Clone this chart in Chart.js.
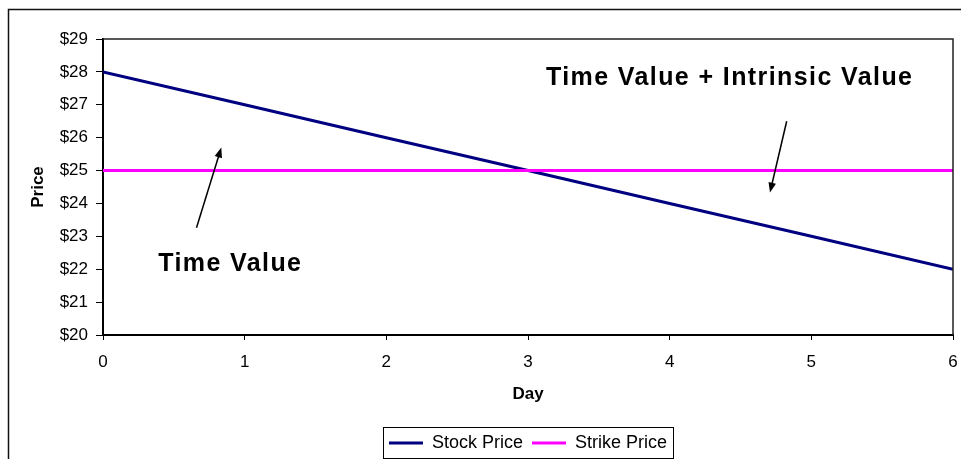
<!DOCTYPE html>
<html>
<head>
<meta charset="utf-8">
<script src="https://cdn.jsdelivr.net/npm/chart.js@4/dist/chart.umd.min.js"></script>
<style>
  html, body { margin: 0; padding: 0; background: #fff; }
  #wrap { width: 961px; height: 459px; }
</style>
</head>
<body>
<div id="wrap"><canvas id="c" width="961" height="459"></canvas></div>
<script>
// Day axis and the two price series
const days = [0, 1, 2, 3, 4, 5, 6];
const stockPrice = [28, 27, 26, 25, 24, 23, 22];
const strikePrice = [25, 25, 25, 25, 25, 25, 25];
const seriesNames = ['Stock Price', 'Strike Price'];
const priceRange = [20, 29];
const dayRange = [0, 6];

// Text call-outs with their arrows, placed in data units (day, price)
const callouts = [
  { text: 'Time Value', at: [0.39, 21.96], arrowFrom: [0.66, 23.26], arrowTo: [0.835, 25.70] },
  { text: 'Time Value + Intrinsic Value', at: [3.127, 27.615], arrowFrom: [4.826, 26.50], arrowTo: [4.708, 24.33] }
];

const FONT = '"Liberation Sans", Arial, sans-serif';

const framePlugin = {
  id: 'frame',
  beforeDraw(chart) {
    const { ctx } = chart;
    ctx.save();
    ctx.fillStyle = '#fff';
    ctx.fillRect(0, 0, chart.width, chart.height);
    ctx.restore();
  },
  afterDatasetsDraw(chart) {
    const { ctx, chartArea: a, scales } = chart;
    ctx.save();
    // thin top and right edges of the plot area
    ctx.strokeStyle = '#222';
    ctx.lineWidth = 1.5;
    ctx.beginPath();
    ctx.moveTo(a.left, a.top);
    ctx.lineTo(a.right, a.top);
    ctx.lineTo(a.right, a.bottom);
    ctx.stroke();

    // call-out texts and arrows
    const px = v => scales.x.getPixelForValue(v);
    const py = v => scales.y.getPixelForValue(v);
    ctx.fillStyle = '#000';
    ctx.strokeStyle = '#000';
    ctx.font = 'bold 25px ' + FONT;
    ctx.textBaseline = 'alphabetic';
    ctx.textAlign = 'left';
    if ('letterSpacing' in ctx) ctx.letterSpacing = '1.4px';
    callouts.forEach(c => {
      ctx.fillText(c.text, px(c.at[0]), py(c.at[1]));
      const x0 = px(c.arrowFrom[0]), y0 = py(c.arrowFrom[1]);
      const x1 = px(c.arrowTo[0]), y1 = py(c.arrowTo[1]);
      const ang = Math.atan2(y1 - y0, x1 - x0);
      const len = 10, hw = 3.8;
      ctx.lineWidth = 1.5;
      ctx.beginPath();
      ctx.moveTo(x0, y0);
      ctx.lineTo(x1 - Math.cos(ang) * len * 0.7, y1 - Math.sin(ang) * len * 0.7);
      ctx.stroke();
      ctx.beginPath();
      ctx.moveTo(x1, y1);
      ctx.lineTo(x1 - Math.cos(ang) * len - Math.sin(ang) * hw, y1 - Math.sin(ang) * len + Math.cos(ang) * hw);
      ctx.lineTo(x1 - Math.cos(ang) * len + Math.sin(ang) * hw, y1 - Math.sin(ang) * len - Math.cos(ang) * hw);
      ctx.closePath();
      ctx.fill();
    });
    if ('letterSpacing' in ctx) ctx.letterSpacing = '0px';
    ctx.restore();
  },
  afterDraw(chart) {
    const { ctx } = chart;
    ctx.save();
    // outer chart frame (runs off the right and bottom edges)
    ctx.strokeStyle = '#111';
    ctx.lineWidth = 1.5;
    ctx.strokeRect(8.5, 9.5, 2000, 2000);
    // box around the legend entries
    const boxes = chart.legend && chart.legend.legendHitBoxes;
    if (boxes && boxes.length) {
      const l = Math.min(...boxes.map(b => b.left));
      const r = Math.max(...boxes.map(b => b.left + b.width));
      const t = Math.min(...boxes.map(b => b.top));
      const h = Math.max(...boxes.map(b => b.height));
      ctx.strokeStyle = '#000';
      ctx.lineWidth = 1;
      ctx.strokeRect(Math.round(l - 6) + 0.5, Math.round(t - 7) + 0.5, Math.round(r - l + 12), Math.round(h + 13));
    }
    ctx.restore();
  }
};

new Chart(document.getElementById('c'), {
  type: 'line',
  data: {
    datasets: [
      {
        label: seriesNames[0],
        data: days.map((d, i) => ({ x: d, y: stockPrice[i] })),
        borderColor: '#000080',
        backgroundColor: '#000080',
        borderWidth: 3,
        pointRadius: 0,
        tension: 0,
        order: 1
      },
      {
        label: seriesNames[1],
        data: days.map((d, i) => ({ x: d, y: strikePrice[i] })),
        borderColor: '#FF00FF',
        backgroundColor: '#FF00FF',
        borderWidth: 3,
        pointRadius: 0,
        tension: 0,
        order: 0
      }
    ]
  },
  options: {
    responsive: false,
    animation: false,
    devicePixelRatio: 1,
    layout: { padding: { top: 39, left: 0, right: 8, bottom: -3 } },
    plugins: {
      tooltip: { enabled: false },
      legend: {
        position: 'bottom',
        fullSize: false,
        labels: {
          color: '#000',
          font: { family: FONT, size: 18 },
          boxWidth: 34,
          boxHeight: 3,
          padding: 9,
          sort: (a, b) => a.datasetIndex - b.datasetIndex,
          generateLabels: chart =>
            Chart.defaults.plugins.legend.labels.generateLabels(chart).map(l => ({
              ...l, fillStyle: l.strokeStyle, lineWidth: 0
            }))
        }
      }
    },
    scales: {
      x: {
        type: 'linear',
        min: dayRange[0],
        max: dayRange[1],
        afterFit: s => { s.height = 90; s.paddingLeft = 0; s.paddingRight = 0; },
        ticks: {
          stepSize: 1,
          color: '#000',
          padding: 12,
          font: { family: FONT, size: 17 }
        },
        grid: { drawOnChartArea: false, drawTicks: true, tickLength: 5, tickColor: '#000', tickWidth: 1 },
        border: { display: true, color: '#000', width: 2 },
        title: {
          display: true,
          text: 'Day',
          color: '#000',
          font: { family: FONT, size: 17, weight: 'bold' },
          padding: { top: 0, bottom: 20 }
        }
      },
      y: {
        min: priceRange[0],
        max: priceRange[1],
        afterFit: s => { s.width = 103; s.paddingTop = 0; s.paddingBottom = 0; },
        ticks: {
          stepSize: 1,
          color: '#000',
          padding: 8,
          font: { family: FONT, size: 17 },
          callback: v => '$' + v
        },
        grid: { drawOnChartArea: false, drawTicks: true, tickLength: 7, tickColor: '#000', tickWidth: 1 },
        border: { display: true, color: '#000', width: 2 },
        title: {
          display: true,
          text: 'Price',
          color: '#000',
          font: { family: FONT, size: 17, weight: 'bold' },
          padding: { top: 28, bottom: 0 }
        }
      }
    }
  },
  plugins: [framePlugin]
});
</script>
</body>
</html>
